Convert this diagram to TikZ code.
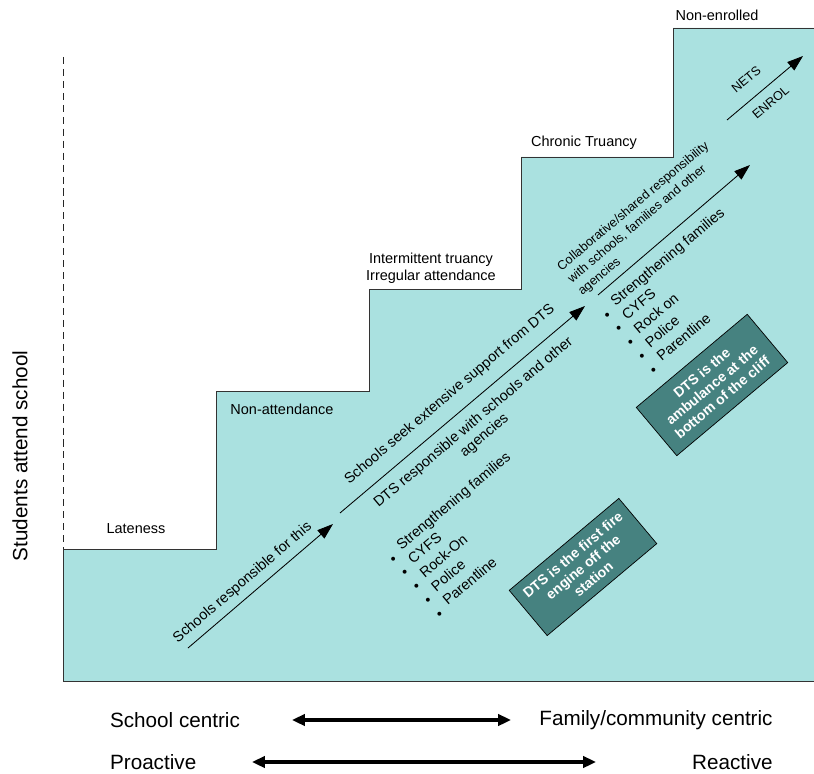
\documentclass[tikz,border=0pt]{standalone}
\usepackage{fontspec}
\setmainfont{Liberation Sans}
\usetikzlibrary{arrows.meta}
\usetikzlibrary{positioning}
\usetikzlibrary{calc}
\definecolor{stepfill}{RGB}{170,225,224}
\definecolor{boxfill}{RGB}{70,130,128}
\newcommand\bul{\raisebox{-4pt}{\textbullet}\hspace{6.5pt}}
\tikzset{
	stairs/.style={fill=stepfill, draw=black!80, line width=0.7pt},
	axisdash/.style={draw=black!85, line width=0.7pt, dash pattern=on 5pt off 3.5pt},
	steplabel/.style={font=\fontsize{10.3}{12.2}\selectfont, align=center},
	axislabel/.style={font=\fontsize{14.7}{17}\selectfont},
	diaglabel/.style={font=\fontsize{10.3}{12.2}\selectfont, align=center, sloped},
	smalllabel/.style={font=\fontsize{9}{11.4}\selectfont, align=left, rotate=40, inner sep=0pt},
	bullets/.style={font=\fontsize{10.3}{12.8}\selectfont, align=left, rotate=40, inner sep=0pt},
	infobox/.style={draw=black, line width=0.5pt, fill=boxfill, text=white, rotate=40,
		font=\fontsize{10}{11.4}\selectfont\bfseries, align=center, inner sep=1pt},
}

\begin{document}
\begin{tikzpicture}[x=0.025cm, y=-0.025cm,
		flowarrow/.style={-{Triangle[length=0.4cm,width=0.27cm]}, line width=0.6pt},
		spanarrow/.style={{Triangle[length=0.32cm,width=0.28cm]}-{Triangle[length=0.32cm,width=0.28cm]}, line width=2.2pt}]
		
		\useasboundingbox (0,0) rectangle (814,774);
		
		% top left corner of every step
		\coordinate (base) at (63,681);
		\coordinate (step1) at (63,549);
		\coordinate (step2) at (216,391);
		\coordinate (step3) at (369,289);
		\coordinate (step4) at (521,157);
		\coordinate (step5) at (673,28);
		\coordinate (axistop) at (63,57);
		
		% staircase, runs off the right edge
		\draw[stairs] (base) -- (step1) -| (step2) -| (step3) -| (step4) -| (step5) -- (816,28) -- (816,681) -- cycle;
		\draw[axisdash] (axistop) -- (step1);
		
		% label every step
		\node[steplabel] (late) at (136,529) {Lateness};
		\node[steplabel] (nonatt) at (282,409) {Non-attendance};
		\node[steplabel] (inter) at (431,268) {Intermittent truancy\\Irregular attendance};
		\node[steplabel] (chronic) at (584,143) {Chronic Truancy};
		\node[steplabel] (nonenr) at (717,15) {Non-enrolled};
		
		\node[axislabel, rotate=90] (attend) at (20,456) {Students attend school};
		
		% ends of the diagonal arrows
		\coordinate (a1s) at (188,648);
		\coordinate (a1e) at (333,524);
		\coordinate (a2s) at (340,513);
		\coordinate (a2e) at (585,306);
		\coordinate (a3s) at (598,295);
		\coordinate (a3e) at (750,165);
		\coordinate (a4s) at (727,120);
		\coordinate (a4e) at (803,56);
		
		\draw[flowarrow] (a1s) -- node[diaglabel, pos=0.44, above=1.5pt] {Schools responsible for this} (a1e);
		\draw[flowarrow] (a2s) -- node[diaglabel, pos=0.5, above=5.5pt] {Schools seek extensive support from DTS}
			node[diaglabel, pos=0.5, below=3.8pt] {DTS responsible with schools and other\\agencies} (a2e);
		\draw[flowarrow] (a3s) -- (a3e);
		\draw[flowarrow] (a4s) -- node[diaglabel, font=\fontsize{9}{10}\selectfont, pos=0.41, above=6.5pt] {NETS}
			node[diaglabel, font=\fontsize{9}{10}\selectfont, pos=0.45, below=3.6pt] {ENROL} (a4e);
		
		\node[smalllabel, anchor=south west] (collab) at (584,298) {Collaborative/shared responsibility\\with schools, families and other\\agencies};
		
		% bullet lists under the arrows
		\node[bullets, anchor=north west] (list1) at (383.6,551.7) {\bul Strengthening families\\\bul CYFS\\\bul Rock-On\\\bul Police\\\bul Parentline};
		\node[bullets, anchor=north west] (list2) at (597.6,307.7) {\bul Strengthening families\\\bul CYFS\\\bul Rock on\\\bul Police\\\bul Parentline};
		
		% the two dark boxes
		\node[infobox, minimum width=3.575cm, minimum height=1.475cm] (fire) at (583,567) {DTS is the first fire\\engine off the\\station};
		\node[infobox, minimum width=3.62cm, minimum height=1.575cm] (cliff) at (712,385) {DTS is the\\ambulance at the\\bottom of the cliff};
		
		% scales under the picture
		\node[axislabel] (school) at (175,720) {School centric};
		\node[axislabel] (family) at (656,720) {Family/community centric};
		\node[axislabel, anchor=west] (proactive) at ($(school.west)+(0,42)$) {Proactive};
		\node[axislabel, anchor=east] (reactive) at ($(family.east)+(0,42)$) {Reactive};
		
		\coordinate (c1l) at (292,720);
		\coordinate (c1r) at (511,720);
		\coordinate (c2l) at (252,762);
		\coordinate (c2r) at (596,762);
		\draw[spanarrow] (c1l) -- (c1r);
		\draw[spanarrow] (c2l) -- (c2r);
		
	\end{tikzpicture}
\end{document}
